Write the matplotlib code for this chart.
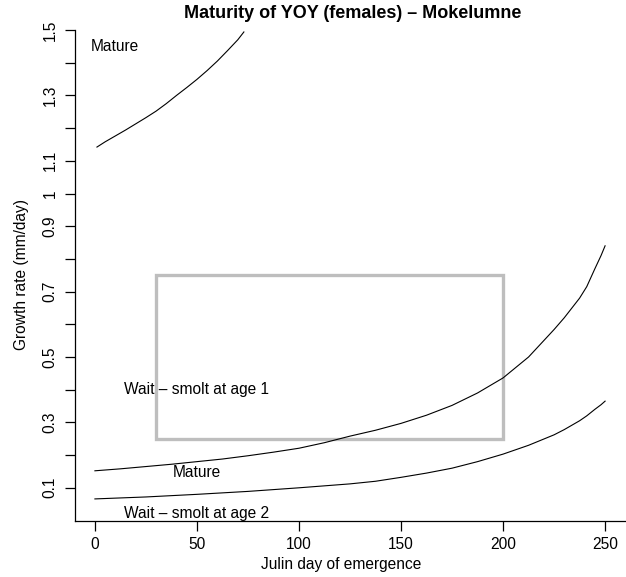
import matplotlib
matplotlib.use("Agg")
import matplotlib.pyplot as plt
from matplotlib.patches import Rectangle

plt.rcParams['font.family'] = ['Liberation Sans', 'DejaVu Sans']

# Data
upper_x = [1, 5, 10, 15, 20, 25, 30, 35, 40, 45, 50, 55, 60, 65, 70, 73]
upper_y = [1.142, 1.158, 1.176, 1.194, 1.213, 1.232, 1.252, 1.275, 1.300, 1.324,
           1.349, 1.376, 1.405, 1.437, 1.47, 1.494]

mid_x = [0, 12.5, 25, 37.5, 50, 62.5, 75, 87.5, 100, 112.5, 125, 137.5, 150,
         162.5, 175, 187.5, 200, 212.5, 225, 230, 237.5, 241, 245, 248, 250]
mid_y = [0.152, 0.158, 0.165, 0.172, 0.180, 0.188, 0.198, 0.209, 0.221, 0.238,
         0.258, 0.276, 0.297, 0.322, 0.352, 0.39, 0.436, 0.50, 0.584, 0.62, 0.68,
         0.715, 0.77, 0.81, 0.84]

low_x = [0, 25, 50, 75, 100, 125, 137.5, 150, 162.5, 175, 187.5, 200, 212.5,
         225, 230, 237.5, 241, 245, 248, 250]
low_y = [0.066, 0.072, 0.080, 0.089, 0.100, 0.112, 0.120, 0.132, 0.145, 0.160,
         0.18, 0.203, 0.23, 0.262, 0.278, 0.305, 0.32, 0.34, 0.354, 0.365]

box_x = [30, 200]
box_y = [0.25, 0.75]

x_ticks = [0, 50, 100, 150, 200, 250]
y_ticks = [0.1, 0.2, 0.3, 0.4, 0.5, 0.6, 0.7, 0.8, 0.9, 1.0, 1.1, 1.2, 1.3, 1.4, 1.5]
y_tick_labels = ['0.1', '', '0.3', '', '0.5', '', '0.7', '', '0.9', '1', '1.1', '', '1.3', '', '1.5']

labels = ["Mature", "Wait \u2013 smolt at age 1", "Mature", "Wait \u2013 smolt at age 2"]
label_x = [10, 50, 50, 50]
label_y = [1.45, 0.40, 0.147, 0.02]

W, H = 626, 577
fig = plt.figure(figsize=(W / 100, H / 100), dpi=100)
L, R, T, B = 74.5, 625.5, 30, 520.5
ax = fig.add_axes([L / W, 1 - B / H, (R - L) / W, (B - T) / H])
ax.set_xlim(-10, 260)
ax.set_ylim(0, 1.5)

ax.plot(upper_x, upper_y, color='black', lw=0.8)
ax.plot(mid_x, mid_y, color='black', lw=0.8)
ax.plot(low_x, low_y, color='black', lw=0.8)

ax.add_patch(Rectangle((box_x[0], box_y[0]), box_x[1] - box_x[0], box_y[1] - box_y[0],
                       fill=False, edgecolor='#BEBEBE', lw=2.4))

for t, x, y in zip(labels, label_x, label_y):
    ax.text(x, y, t, ha='center', va='center', fontsize=11.2)

ax.spines['top'].set_visible(False)
ax.spines['right'].set_visible(False)
for s in ('left', 'bottom'):
    ax.spines[s].set_linewidth(0.9)

ax.set_xticks(x_ticks)
ax.set_xticklabels([str(v) for v in x_ticks], fontsize=11.2)
ax.set_yticks(y_ticks)
ax.set_yticklabels(y_tick_labels, fontsize=11.2, rotation=90, va='center')
ax.tick_params(axis='both', direction='out', length=7, width=0.9, pad=5)

fig.text(353 / W, 1 - 14 / H, "Maturity of YOY (females) \u2013 Mokelumne",
         ha='center', va='center', fontsize=13, fontweight='bold')
fig.text(341.5 / W, 1 - 565 / H, "Julin day of emergence", ha='center', va='center', fontsize=11.2)
fig.text(22 / W, 1 - 275 / H, "Growth rate (mm/day)", ha='center', va='center',
         rotation=90, fontsize=11.2)

fig.savefig("out.png", dpi=100, facecolor='white')
